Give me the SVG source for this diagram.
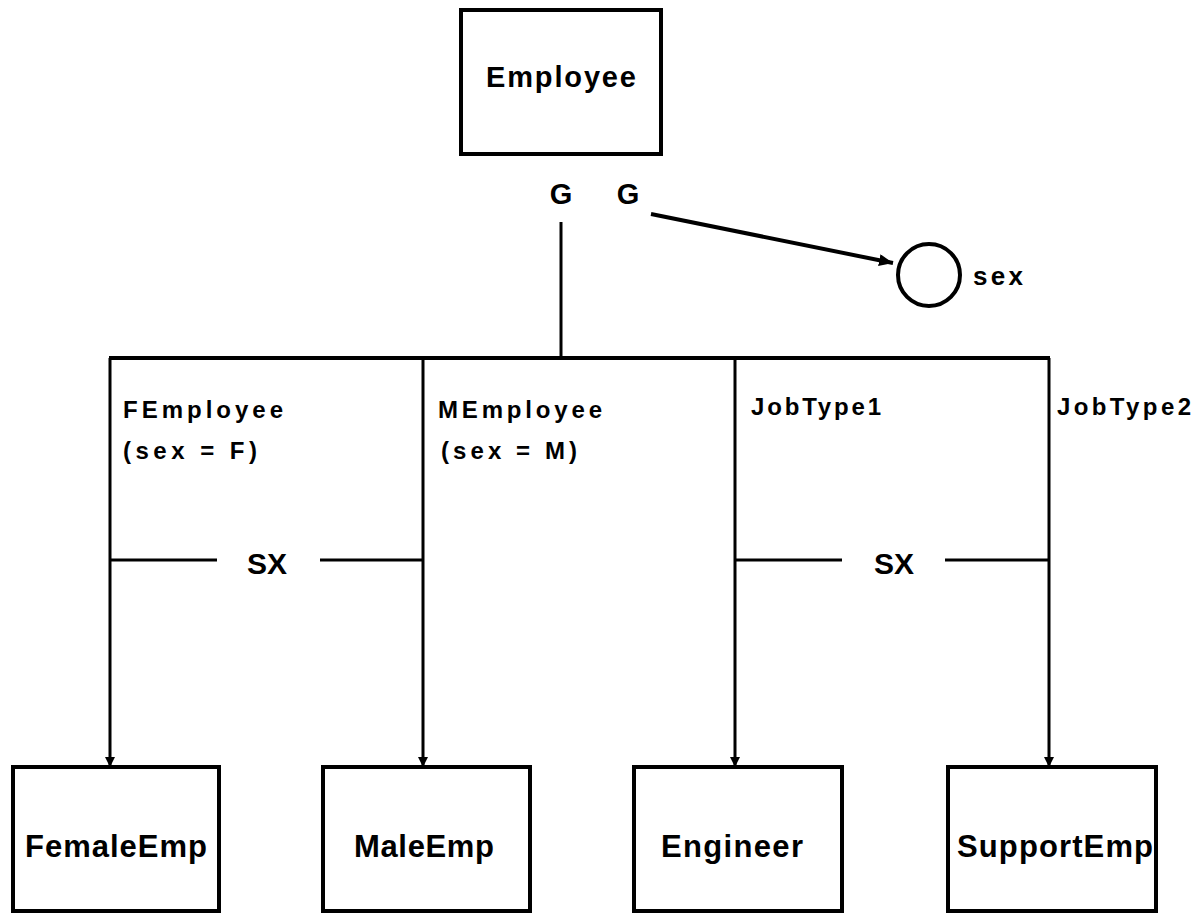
<svg xmlns="http://www.w3.org/2000/svg" width="1203" height="914" viewBox="0 0 1203 914">
  <style>
    .box { fill: #fff; stroke: #000; stroke-width: 4; }
    .line { fill: none; stroke: #000; stroke-width: 3; }
    .bar { fill: none; stroke: #000; stroke-width: 4; }
    .t { font-family: "Liberation Sans", Arial, Helvetica, sans-serif; font-weight: bold; fill: #000; }
    .name { font-size: 31px; }
    .lbl { font-size: 24px; }
    .big { font-size: 29px; }
  </style>
  <defs>
    <marker id="arrow" viewBox="0 0 10 12" refX="10" refY="6" markerWidth="10" markerHeight="12" markerUnits="userSpaceOnUse" orient="auto">
      <path d="M0,1 L10,6 L0,11 Z" fill="#000"/>
    </marker>
    <marker id="arrowBig" viewBox="0 0 14 12" refX="14" refY="6" markerWidth="14" markerHeight="12" markerUnits="userSpaceOnUse" orient="auto">
      <path d="M0,0 L14,6 L0,12 Z" fill="#000"/>
    </marker>
  </defs>

  <rect width="1203" height="914" fill="#fff"/>

  <!-- connectors -->
  <g id="connectors">
    <line class="line" x1="561" y1="222" x2="561" y2="358"/>
    <line class="bar" x1="109" y1="358" x2="1050" y2="358"/>
    <line class="line" x1="110" y1="358" x2="110" y2="767" marker-end="url(#arrow)"/>
    <line class="line" x1="423" y1="358" x2="423" y2="767" marker-end="url(#arrow)"/>
    <line class="line" x1="735" y1="358" x2="735" y2="767" marker-end="url(#arrow)"/>
    <line class="line" x1="1049" y1="358" x2="1049" y2="767" marker-end="url(#arrow)"/>
    <line class="bar" x1="651" y1="214" x2="893" y2="263" marker-end="url(#arrowBig)"/>
    <!-- SX exclusion markers -->
    <line class="line" x1="110" y1="560" x2="217" y2="560"/>
    <line class="line" x1="320" y1="560" x2="423" y2="560"/>
    <line class="line" x1="735" y1="560" x2="842" y2="560"/>
    <line class="line" x1="945" y1="560" x2="1049" y2="560"/>
    <text class="t" x="267" y="574" font-size="30" text-anchor="middle">SX</text>
    <text class="t" x="894" y="574" font-size="30" text-anchor="middle">SX</text>
    <!-- generalization labels -->
    <text class="t big" x="561" y="204" text-anchor="middle">G</text>
    <text class="t big" x="628" y="204" text-anchor="middle">G</text>
    <!-- branch labels -->
    <text class="t lbl" x="123" y="418" textLength="160" lengthAdjust="spacing">FEmployee</text>
    <text class="t lbl" x="123" y="459" textLength="134" lengthAdjust="spacing">(sex = F)</text>
    <text class="t lbl" x="438" y="418" textLength="164" lengthAdjust="spacing">MEmployee</text>
    <text class="t lbl" x="441" y="459" textLength="136" lengthAdjust="spacing">(sex = M)</text>
    <text class="t lbl" x="751" y="415" textLength="130" lengthAdjust="spacing">JobType1</text>
    <text class="t lbl" x="1057" y="415" textLength="134" lengthAdjust="spacing">JobType2</text>
  </g>

  <!-- attribute -->
  <g id="attr-sex">
    <circle cx="929" cy="275" r="31" fill="#fff" stroke="#000" stroke-width="4"/>
    <text class="t" x="973" y="285" font-size="26" textLength="50" lengthAdjust="spacing">sex</text>
  </g>

  <!-- entities -->
  <g id="employee">
    <rect class="box" x="461" y="10" width="200" height="144"/>
    <text class="t big" x="561" y="87" text-anchor="middle" textLength="150" lengthAdjust="spacing">Employee</text>
  </g>
  <g id="femaleemp">
    <rect class="box" x="13" y="767" width="206" height="144"/>
    <text class="t name" x="116" y="857" text-anchor="middle" textLength="182" lengthAdjust="spacing">FemaleEmp</text>
  </g>
  <g id="maleemp">
    <rect class="box" x="323" y="767" width="207" height="144"/>
    <text class="t name" x="424" y="857" text-anchor="middle" textLength="140" lengthAdjust="spacing">MaleEmp</text>
  </g>
  <g id="engineer">
    <rect class="box" x="634" y="767" width="208" height="144"/>
    <text class="t name" x="732" y="857" text-anchor="middle" textLength="142" lengthAdjust="spacing">Engineer</text>
  </g>
  <g id="supportemp">
    <rect class="box" x="948" y="767" width="208" height="144"/>
    <text class="t name" x="1055" y="857" text-anchor="middle" textLength="196" lengthAdjust="spacing">SupportEmp</text>
  </g>
</svg>
